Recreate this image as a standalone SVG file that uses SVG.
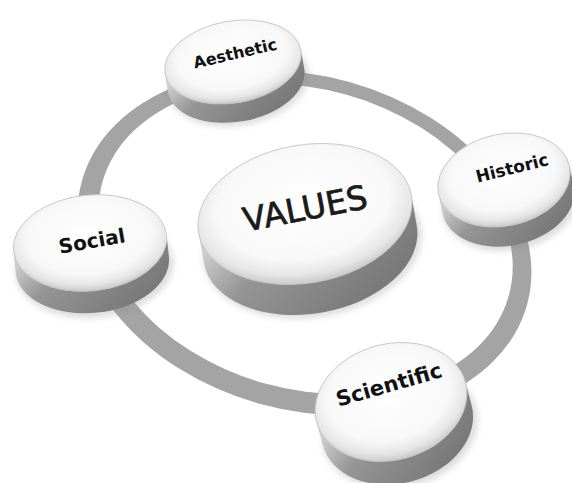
<svg xmlns="http://www.w3.org/2000/svg" width="572" height="483" viewBox="0 0 572 483">
  <style>
    .face { fill: url(#faceGrad); stroke: #c0c0c0; stroke-width: 0.8; }
    .side { fill: url(#sideGrad); }
    .shadow { fill: #8c8c8c; opacity: 0.3; filter: url(#soft); }
    .label { font-family: "DejaVu Sans", "Liberation Sans", sans-serif; font-weight: bold; fill: #111; text-anchor: middle; }
    .title { font-family: "DejaVu Sans", "Liberation Sans", sans-serif; font-weight: normal; fill: #1a1a1a; stroke: #1a1a1a; stroke-width: 0.7; text-anchor: middle; }
  </style>
  <defs>
    <radialGradient id="faceGrad" cx="0.5" cy="0.42" r="0.58">
      <stop offset="0" stop-color="#ffffff"/>
      <stop offset="0.7" stop-color="#f8f8f8"/>
      <stop offset="0.88" stop-color="#e6e6e6"/>
      <stop offset="1" stop-color="#c9c9c9"/>
    </radialGradient>
    <linearGradient id="sideGrad" x1="0" y1="0.2" x2="1" y2="0.8">
      <stop offset="0" stop-color="#cfcfcf"/>
      <stop offset="0.3" stop-color="#959595"/>
      <stop offset="1" stop-color="#737373"/>
    </linearGradient>
    <filter id="soft" x="-20%" y="-20%" width="140%" height="140%">
      <feGaussianBlur stdDeviation="3"/>
    </filter>
  </defs>

  <rect width="572" height="483" fill="#ffffff"/>

  <!-- ring linking the outer discs -->
  <g id="connectors">
    <path transform="translate(305,241) rotate(15.6)" fill="#a4a4a4" fill-rule="evenodd"
          d="M -231,2 a231,167 0 1 0 462,0 a231,167 0 1 0 -462,0 Z
             M -211,-2 a211,150 0 1 0 422,0 a211,150 0 1 0 -422,0 Z"/>
  </g>

  <!-- central disc -->
  <g id="values">
    <g transform="translate(305,214) rotate(-10)">
      <ellipse class="shadow" cx="2" cy="33" rx="110" ry="71"/>
      <path class="side" d="M -108,0 A108,69 0 0 0 108,0 L 108,31 A108,69 0 0 1 -108,31 Z"/>
      <ellipse class="face" cx="0" cy="0" rx="108" ry="69"/>
    </g>
    <text class="title" font-size="33" transform="translate(305,208) rotate(-11)" y="12">VALUES</text>
  </g>

  <g id="aesthetic">
    <g transform="translate(233,62) rotate(-10)">
      <ellipse class="shadow" cx="2" cy="21" rx="71" ry="43"/>
      <path class="side" d="M -69,0 A69,41 0 0 0 69,0 L 69,19 A69,41 0 0 1 -69,19 Z"/>
      <ellipse class="face" cx="0" cy="0" rx="69" ry="41"/>
    </g>
    <text class="label" font-size="16" transform="translate(235,53) rotate(-13)" y="6">Aesthetic</text>
  </g>

  <g id="historic">
    <g transform="translate(504,180) rotate(-12)">
      <ellipse class="shadow" cx="2" cy="23" rx="69" ry="48"/>
      <path class="side" d="M -67,0 A67,46 0 0 0 67,0 L 67,20 A67,46 0 0 1 -67,20 Z"/>
      <ellipse class="face" cx="0" cy="0" rx="67" ry="46"/>
    </g>
    <text class="label" font-size="17" transform="translate(512,168) rotate(-14)" y="6">Historic</text>
  </g>

  <g id="social">
    <g transform="translate(90,243) rotate(-6)">
      <ellipse class="shadow" cx="2" cy="25" rx="79" ry="50"/>
      <path class="side" d="M -77,0 A77,48 0 0 0 77,0 L 77,22 A77,48 0 0 1 -77,22 Z"/>
      <ellipse class="face" cx="0" cy="0" rx="77" ry="48"/>
    </g>
    <text class="label" font-size="20" transform="translate(92,241) rotate(-10)" y="7">Social</text>
  </g>

  <g id="scientific">
    <g transform="translate(391,402) rotate(-15)">
      <ellipse class="shadow" cx="2" cy="27" rx="79" ry="60"/>
      <path class="side" d="M -77,0 A77,58 0 0 0 77,0 L 77,24 A77,58 0 0 1 -77,24 Z"/>
      <ellipse class="face" cx="0" cy="0" rx="77" ry="58"/>
    </g>
    <text class="label" font-size="21" transform="translate(389,385) rotate(-16)" y="7">Scientific</text>
  </g>
</svg>
